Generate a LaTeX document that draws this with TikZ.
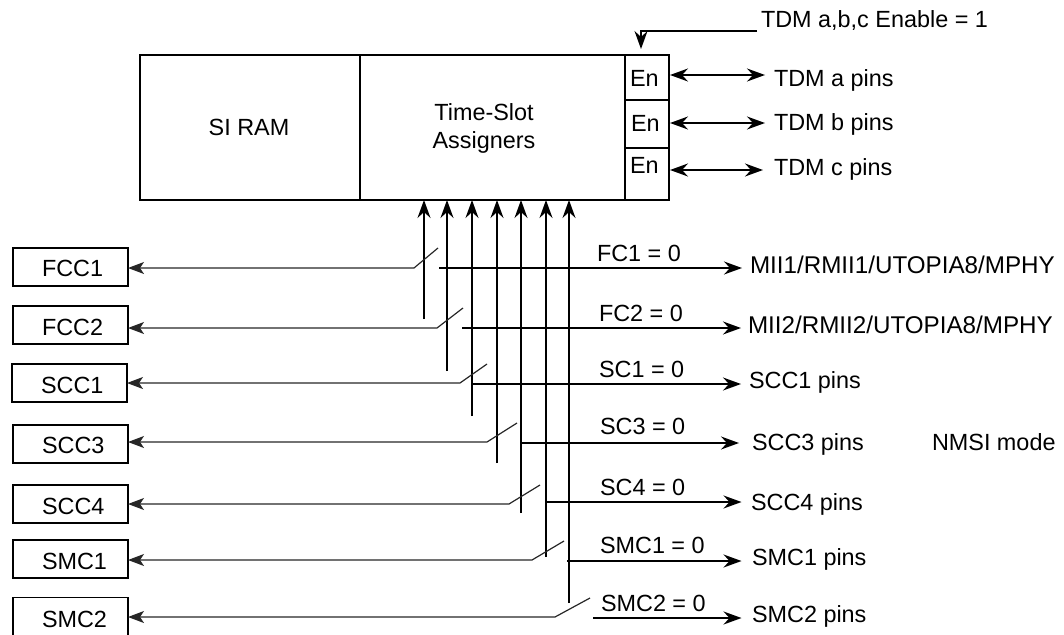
\documentclass[tikz,border=0pt]{standalone}
\usepackage{fontspec}
\setmainfont{Liberation Sans}
\usetikzlibrary{arrows.meta}
\tikzset{
  x=1pt,y=-1pt,
  every node/.style={font=\fontsize{23.4}{26}\selectfont,inner sep=0pt,outer sep=0pt},
  boxnode/.style={draw=black,line width=1.5pt,minimum width=115pt,minimum height=38pt,anchor=north west},
  panel/.style={draw=black,line width=1.5pt,anchor=north west},
  txt/.style={anchor=base west},
  ctr/.style={anchor=center},
  wide/.style={font=\fontsize{24.2}{26}\selectfont},
  wire/.style={line width=1.6pt,draw=black},
  thin wire/.style={line width=1.2pt,draw=black!85},
  head/.style={-{Stealth[length=18pt,width=13pt,inset=6pt]}},
  dhead/.style={{Stealth[length=18pt,width=13pt,inset=6pt]}-{Stealth[length=18pt,width=13pt,inset=6pt]}},
}
\begin{document}
\begin{tikzpicture}
\useasboundingbox (0,0) rectangle (1064,634);
% main panels
\node[panel,minimum width=220pt,minimum height=145pt] (ram) at (140,55) {};
\node[ctr] at (249,127) {SI RAM};
\node[panel,minimum width=265pt,minimum height=145pt] (tsa) at (360,55) {};
\node[ctr,align=center] at (484,128) {Time-Slot\\[2pt]Assigners};
\node[panel,minimum width=44pt,minimum height=45pt] (ena) at (625,55) {};
\node[panel,minimum width=44pt,minimum height=48pt] (enb) at (625,100) {};
\node[panel,minimum width=44pt,minimum height=52pt] (enc) at (625,148) {};
\node[txt] at (630,86) {En};
\node[txt] at (631,131) {En};
\node[txt] at (630,173) {En};
% TDM enable
\node[txt] (tdm) at (761,28) {TDM a,b,c Enable = 1};
\coordinate (tdmL) at (757,31);
\coordinate (tdmT) at (641,31);
\draw[wire,head] (tdmL) -- (tdmT) -- (641,49);
% TDM pins
\node[txt] (pa) at (774,86) {TDM a pins};
\node[txt] (pb) at (774,130) {TDM b pins};
\node[txt] (pc) at (774,175) {TDM c pins};
\draw[wire,dhead] (670,75) -- (765,75);
\draw[wire,dhead] (670,123) -- (765,123);
\draw[wire,dhead] (670,170) -- (763,170);
% left boxes
\node[boxnode] (fcc1) at (13,248) {}; \node[txt] at (42,276) {FCC1};
\node[boxnode] (fcc2) at (13,306) {}; \node[txt] at (42,335) {FCC2};
\node[boxnode] (scc1) at (12,364) {}; \node[txt] at (41,393) {SCC1};
\node[boxnode] (scc3) at (13,425) {}; \node[txt] at (42,453) {SCC3};
\node[boxnode] (scc4) at (13,485) {}; \node[txt] at (42,514) {SCC4};
\node[boxnode] (smc1) at (13,540) {}; \node[txt] at (42,569) {SMC1};
\node[boxnode] (smc2) at (13,597.5) {}; \node[txt] at (42,627) {SMC2};
% vertical arrows
\foreach \x/\b in {424/319,447/371,472/416,497/463,521/513,546/557,569/603}
  \draw[wire,head] (\x,\b) -- (\x,200);
% switches: knee, blade tip
\foreach \n/\y/\kx/\tx/\ty in {fcc1/268/414/438/248,fcc2/328/437/463/308,scc1/383/460/487/364,scc3/442/487/517/423,scc4/504/509/540/485,smc1/560/532/564/541,smc2/617/555/590/598}
  \draw[thin wire,{Stealth[length=16pt,width=12pt,inset=4pt]}-] (\n.east |- 0,\y) -- (\kx,\y) -- (\tx,\ty);
% outputs
\foreach \x/\y/\e in {439/268/742,462/328/741,472/384/741,521/443/739,546/502/741.5,567/561/741.5,593/618/741.5}
  \draw[wire,head] (\x,\y) -- (\e,\y);
% switch labels
\node[txt] at (597,261) {FC1 = 0};
\node[txt] at (599,321) {FC2 = 0};
\node[txt] at (599,377) {SC1 = 0};
\node[txt] at (600,434) {SC3 = 0};
\node[txt] at (600,495) {SC4 = 0};
\node[txt] at (600,553) {SMC1 = 0};
\node[txt] at (601,611) {SMC2 = 0};
% pin labels
\node[txt,wide] at (750,273) {MII1/RMII1/UTOPIA8/MPHY};
\node[txt,wide] at (748,333) {MII2/RMII2/UTOPIA8/MPHY};
\node[txt] at (749,388) {SCC1 pins};
\node[txt] at (752,450) {SCC3 pins};
\node[txt] at (751,510) {SCC4 pins};
\node[txt] at (752,565) {SMC1 pins};
\node[txt] at (752,622) {SMC2 pins};
\node[txt] at (932,450) {NMSI mode};
\end{tikzpicture}
\end{document}
